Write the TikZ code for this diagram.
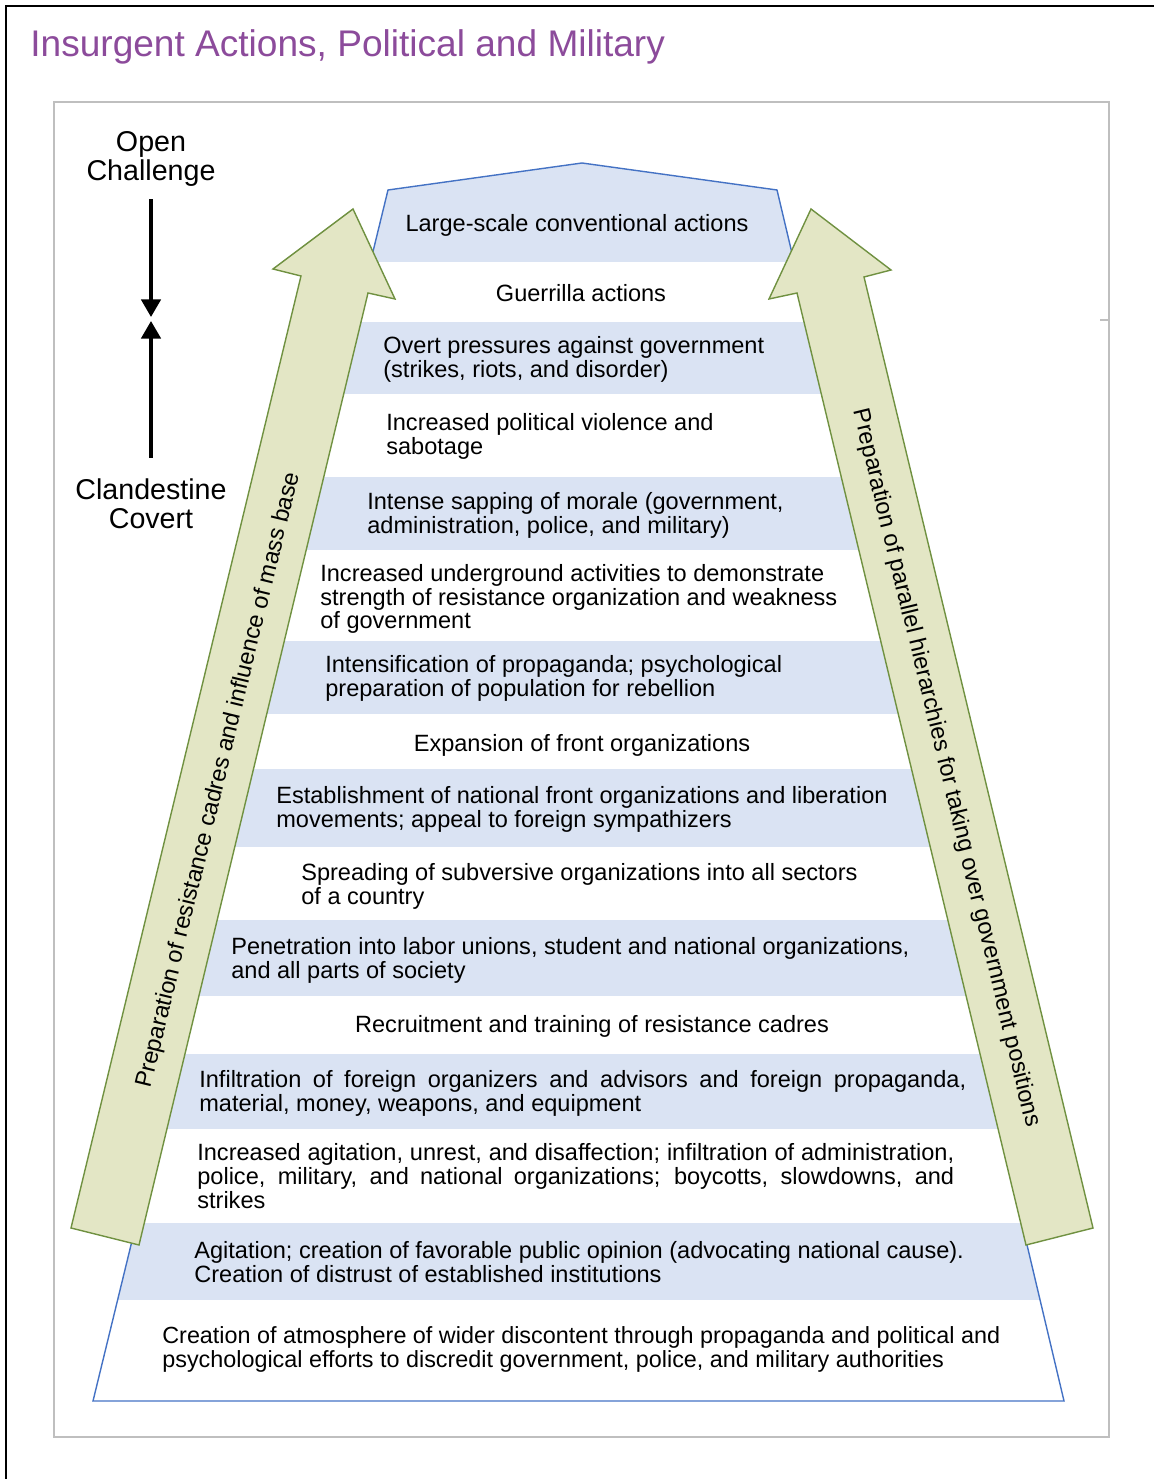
\documentclass[tikz,border=0pt]{standalone}
\usepackage{fontspec}
\setmainfont{Liberation Sans}
\usetikzlibrary{arrows.meta}
\definecolor{titlepurple}{RGB}{140,75,155}
\definecolor{bandblue}{RGB}{218,227,243}
\definecolor{pyrblue}{RGB}{68,114,196}
\definecolor{arrowfill}{RGB}{227,230,197}
\definecolor{arrowline}{RGB}{112,145,65}
\definecolor{framegray}{RGB}{191,191,191}

\begin{document}
\begin{tikzpicture}[x=0.02cm, y=-0.02cm,
  lvl/.style={inner sep=0pt, font=\fontsize{13.4}{13.6}\selectfont},
  lvlleft/.style={lvl, anchor=west, align=left},
  side/.style={inner sep=2pt, align=center, font=\fontsize{16.3}{16.4}\selectfont},
  sidearrow/.style={line width=2pt, -{Triangle[width=11pt,length=10pt]}},
  bigarrow/.style={fill=arrowfill, draw=arrowline, line width=0.8pt}]

\useasboundingbox (0,0) rectangle (1154,1479);

\draw [line width=1.4pt] (6,1479) -- (6,6) -- (1154,6); \draw
[framegray, line width=1.2pt] (54,102) rectangle (1109,1437); \draw
[framegray, line width=1.2pt] (1100,320) -- (1109,320);

\node [anchor=base west, inner sep=0pt, text=titlepurple,
font=\fontsize{21.1}{22}\selectfont] (title) at (30,57) {Insurgent
  Actions, Political and Military};

\begin{scope}
  \clip (93,1401) -- (388,190) -- (582,163) -- (777,190) --
  (1064,1401) -- cycle; \fill [bandblue] (60,150) rectangle
  (1100,262); \fill [bandblue] (60,322) rectangle (1100,394); \fill
  [bandblue] (60,477) rectangle (1100,550); \fill [bandblue] (60,641)
  rectangle (1100,714); \fill [bandblue] (60,769) rectangle
  (1100,847); \fill [bandblue] (60,920) rectangle (1100,996); \fill
  [bandblue] (60,1054) rectangle (1100,1129); \fill [bandblue]
  (60,1223) rectangle (1100,1300);
\end{scope}
\draw [pyrblue, line width=0.8pt] (93,1401) -- (388,190) -- (582,163)
-- (777,190) -- (1064,1401) -- cycle;

\node [lvl] (conv) at (577,225) {Large-scale conventional actions};
\node [lvl] (guer) at (581,293) {Guerrilla actions}; \node [lvlleft]
(overt) at (383,359) {Overt pressures against government\\(strikes,
  riots, and disorder)}; \node [lvlleft] (viol) at (386,436)
{Increased political violence and\\sabotage}; \node [lvlleft] (morale)
at (367,515) {Intense sapping of morale (government,\\administration,
  police, and military)}; \node [lvlleft] (under) at (320,599)
{Increased underground activities to demonstrate\\strength of
  resistance organization and weakness\\of government}; \node
[lvlleft] (propa) at (325,678) {Intensification of propaganda;
  psychological\\preparation of population for rebellion}; \node [lvl]
(front) at (582,745) {Expansion of front organizations}; \node
[lvlleft] (natfront) at (276,809) {Establishment of national front
  organizations and liberation\\movements; appeal to foreign
  sympathizers}; \node [lvlleft] (spread) at (301,886) {Spreading of
  subversive organizations into all sectors\\of a country}; \node
[lvlleft] (penet) at (231,960) {Penetration into labor unions, student
  and national organizations,\\and all parts of society}; \node [lvl]
(recruit) at (592,1026) {Recruitment and training of resistance
  cadres}; \node [lvlleft, align=justify, text width=15.34cm] (infil)
at (199,1093) {Infiltration of foreign organizers and advisors and
  foreign propaganda,\linebreak material, money, weapons, and
  equipment}; \node [lvlleft, align=justify, text width=15.14cm]
(unrest) at (197,1176) {Increased agitation, unrest, and
  disaffection; infiltration of administration,\linebreak police,
  military, and national organizations; boycotts, slowdowns,
  and\linebreak strikes}; \node [lvlleft] (agit) at (194,1262)
{Agitation; creation of favorable public opinion (advocating national
  cause).\\Creation of distrust of established institutions}; \node
[lvlleft, font=\fontsize{13.3}{13.6}\selectfont] (atmos) at (162,1349)
{Creation of atmosphere of wider discontent through propaganda and
  political and\\psychological efforts to discredit government,
  police, and military authorities};

\begin{scope}[bigarrow]
  \filldraw (353,209) -- (395,299) -- (368,293) -- (139,1245) --
  (71,1228) -- (301,276) -- (273,269) -- cycle; \filldraw (811,209)
  -- (891,270) -- (864,277) -- (1093,1228) -- (1026,1245) --
  (797,293) -- (769,299) -- cycle;
\end{scope}

\node [lvl, rotate=76.4] (cadres) at (219,780) {Preparation of
  resistance cadres and influence of mass base}; \node [lvl,
rotate=-76.4] (hierarchy) at (946,768) {Preparation of parallel
  hierarchies for taking over government positions};

\node [side] (open) at (151,159) {Open\\Challenge}; \node [side]
(covert) at (151,504) {Clandestine\\Covert}; \coordinate (meettop) at
(151,317); \coordinate (meetbot) at (151,321);

\draw [sidearrow, shorten <=5pt] (open) -- (meettop); \draw
[sidearrow, shorten <=10pt] (covert) -- (meetbot);
\end{tikzpicture}
\end{document}
